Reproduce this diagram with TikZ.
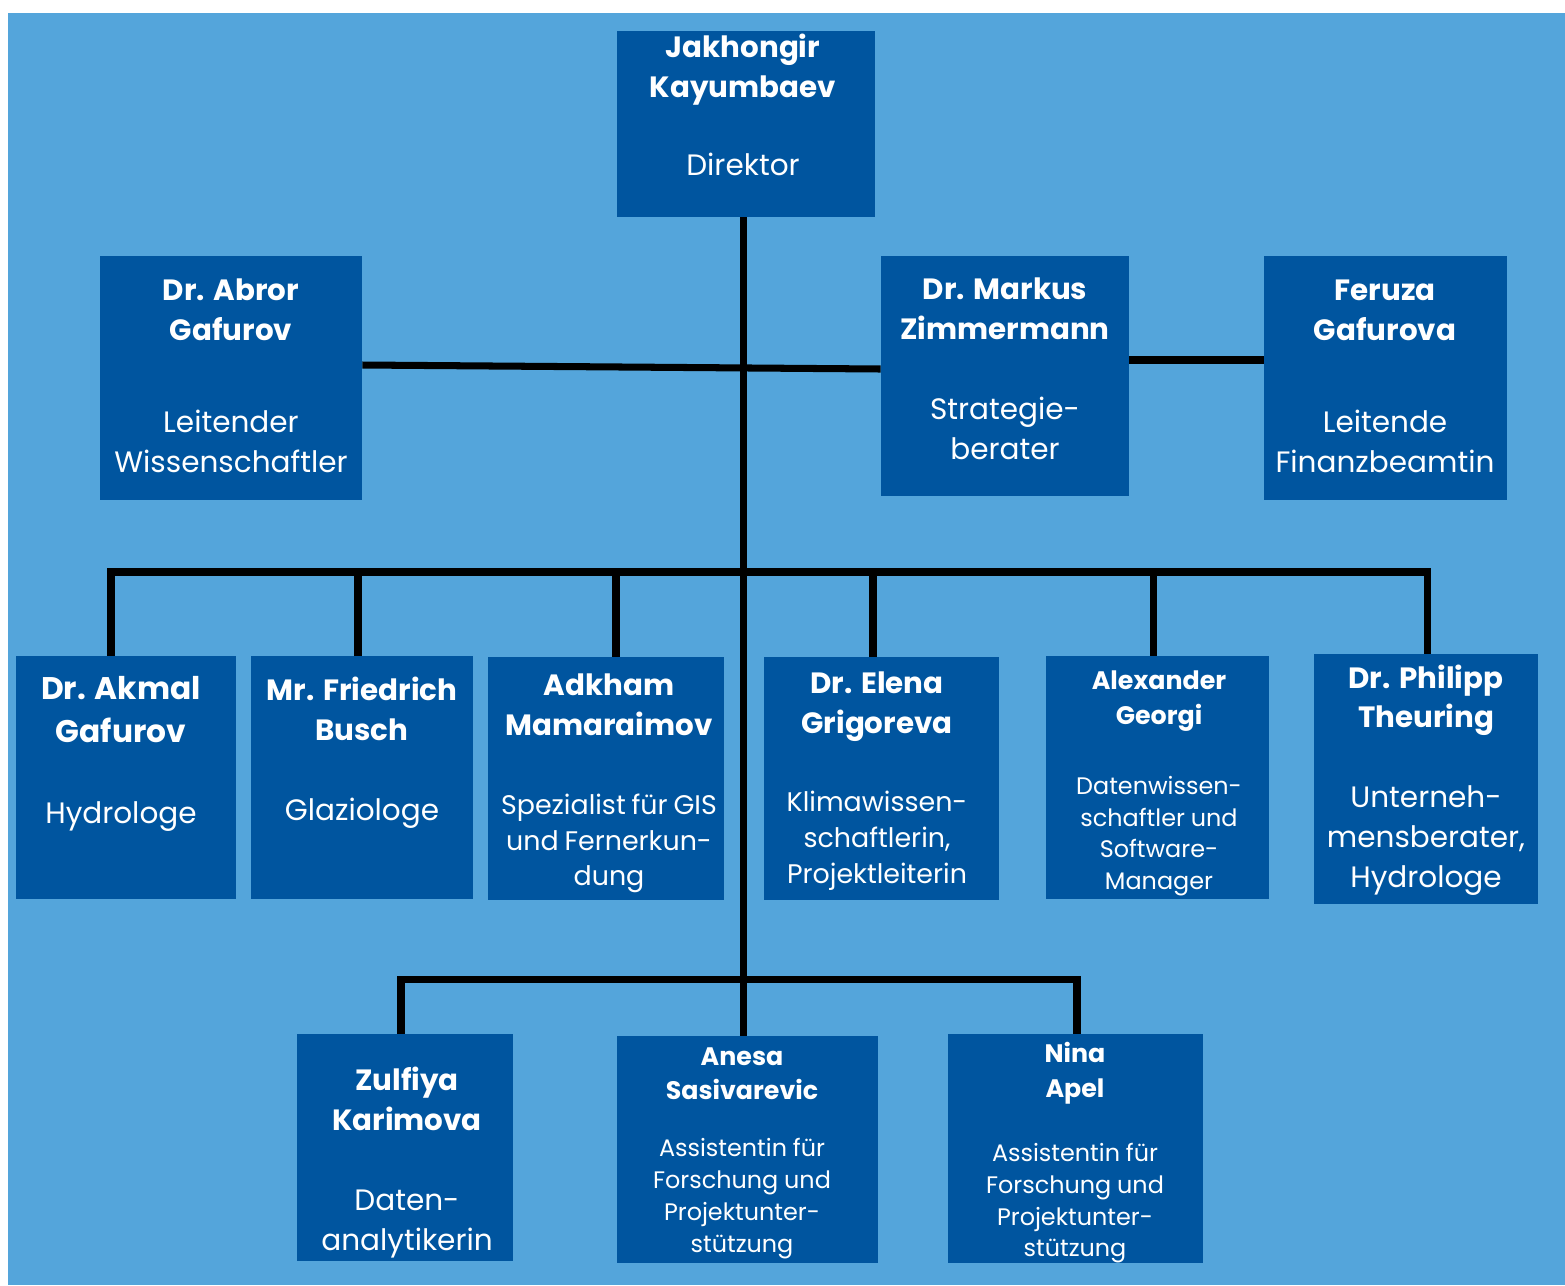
\documentclass[tikz,border=0pt]{standalone}
\usepackage{fontspec}
\setmainfont{Poppins}
\usepackage{tikz}

\definecolor{sky}{RGB}{84,165,219}
\definecolor{navy}{RGB}{0,85,159}

\newdimen\pxu \pxu=0.02cm
% fonts for names and roles
\newcommand\nmL{\bfseries\fontsize{17.8}{24.4}\selectfont}
\newcommand\nmN{\bfseries\fontsize{16.7}{22.7}\selectfont}
\newcommand\nmS{\bfseries\fontsize{14.4}{19.8}\selectfont}
\newcommand\rlN{\mdseries\fontsize{16.8}{22.7}\selectfont}
\newcommand\rlM{\mdseries\fontsize{15.3}{20.4}\selectfont}
\newcommand\rlS{\mdseries\fontsize{13.6}{18.1}\selectfont}
\newcommand\sgap[1]{\par\vspace{#1\pxu}}

\tikzset{
  card/.style={fill=navy, inner sep=0pt},
  txt/.style={text=white, align=center, text width=6cm, inner sep=0pt},
  wire/.style={line width=4pt, black},
}

\begin{document}
\begin{tikzpicture}[x=0.02cm, y=-0.02cm]
            % Background
            \useasboundingbox (0,0) rectangle (1565,1285);
            \fill[white] (0,0) rectangle (1565,1285);
            \fill[sky] (8,13) rectangle (1565,1285);

            % Boxes
            \node[card, minimum width=5.16cm, minimum height=3.72cm] (dir) at (746,124) {};
            \node[card, minimum width=5.24cm, minimum height=4.88cm] (abror) at (231,378) {};
            \node[card, minimum width=4.96cm, minimum height=4.80cm] (markus) at (1005,376) {};
            \node[card, minimum width=4.86cm, minimum height=4.88cm] (feruza) at (1385.5,378) {};
            \node[card, minimum width=4.40cm, minimum height=4.86cm] (akmal) at (126,777.5) {};
            \node[card, minimum width=4.44cm, minimum height=4.86cm] (friedrich) at (362,777.5) {};
            \node[card, minimum width=4.72cm, minimum height=4.86cm] (adkham) at (606,778.5) {};
            \node[card, minimum width=4.70cm, minimum height=4.86cm] (elena) at (881.5,778.5) {};
            \node[card, minimum width=4.46cm, minimum height=4.86cm] (alexander) at (1157.5,777.5) {};
            \node[card, minimum width=4.48cm, minimum height=5.00cm] (philipp) at (1426,779) {};
            \node[card, minimum width=4.32cm, minimum height=4.54cm] (zulfiya) at (405,1147.5) {};
            \node[card, minimum width=5.22cm, minimum height=4.54cm] (anesa) at (747.5,1149.5) {};
            \node[card, minimum width=5.10cm, minimum height=4.58cm] (nina) at (1075.5,1148.5) {};

            % Names and roles
            \node[txt] (dir-t) at (743,104.5) {\nmN Jakhongir\\Kayumbaev\sgap{38}\rlN Direktor\par};
            \node[txt] (abror-t) at (231,376) {\nmN Dr. Abror\\Gafurov\sgap{52}\rlN Leitender\\Wissenschaftler\par};
            \node[txt] (markus-t) at (1005,369) {\nmN Dr. Markus\\Zimmermann\sgap{40}\rlN Strategie-\\berater\par};
            \node[txt] (feruza-t) at (1385,376.5) {\nmN Feruza\\Gafurova\sgap{52}\rlN Leitende\\Finanzbeamtin\par};
            \node[txt] (akmal-t) at (121,754) {\nmL Dr. Akmal\\Gafurov\sgap{42}\rlN Hydrologe\par};
            \node[txt] (friedrich-t) at (362,752.5) {\nmN Mr. Friedrich\\Busch\sgap{40}\rlN Glaziologe\par};
            \node[txt] (adkham-t) at (609,783.5) {\nmN Adkham\\Mamaraimov\sgap{43}\rlM Spezialist für GIS\\und Fernerkun-\\dung\par};
            \node[txt] (elena-t) at (877,781) {\nmN Dr. Elena\\Grigoreva\sgap{43}\rlM Klimawissen-\\schaftlerin,\\Projektleiterin\par};
            \node[txt] (alexander-t) at (1159,783.5) {\nmS Alexander\\Georgi\sgap{38}\rlS Datenwissen-\\schaftler und\\Software-\\Manager\par};
            \node[txt] (philipp-t) at (1426,780) {\nmN Dr. Philipp\\Theuring\sgap{40}\rlN Unterneh-\\mensberater,\\Hydrologe\par};
            \node[txt] (zulfiya-t) at (407,1162.5) {\nmN Zulfiya\\Karimova\sgap{40}\rlN Daten-\\analytikerin\par};
            \node[txt] (anesa-t) at (742,1153) {\nmS Anesa\\Sasivarevic\sgap{25}\rlS Assistentin für\\Forschung und\\Projektunter-\\stützung\par};
            \node[txt] (nina-t) at (1075,1153) {\nmS Nina\\Apel\sgap{32}\rlS Assistentin für\\Forschung und\\Projektunter-\\stützung\par};

            % Trunk
            \draw[wire] ([xshift=-.05cm]dir.south) -- ([xshift=-.05cm]dir.south |- anesa.north);

            % Staff level
            \draw[wire] ([yshift=.26cm]abror.east) -- ([yshift=.14cm]markus.west);
            \draw[wire] ([yshift=.32cm]markus.east) -- ([yshift=.32cm]markus.east -| feruza.west);

            % Department bus
            \coordinate (bus) at (743,572);
            \draw[wire] ([xshift=-.30cm]akmal.north) |- (bus) -| ([xshift=.02cm]philipp.north);
            \draw[wire] ([xshift=-.08cm]friedrich.north) -- ([xshift=-.08cm]friedrich.north |- bus);
            \draw[wire] ([xshift=.20cm]adkham.north) -- ([xshift=.20cm]adkham.north |- bus);
            \draw[wire] ([xshift=-.17cm]elena.north) -- ([xshift=-.17cm]elena.north |- bus);
            \draw[wire] ([xshift=-.08cm]alexander.north) -- ([xshift=-.08cm]alexander.north |- bus);

            % Assistants bus
            \coordinate (lbus) at (743,979);
            \draw[wire] ([xshift=-.08cm]zulfiya.north) |- (lbus) -| ([xshift=.03cm]nina.north);
\end{tikzpicture}
\end{document}
